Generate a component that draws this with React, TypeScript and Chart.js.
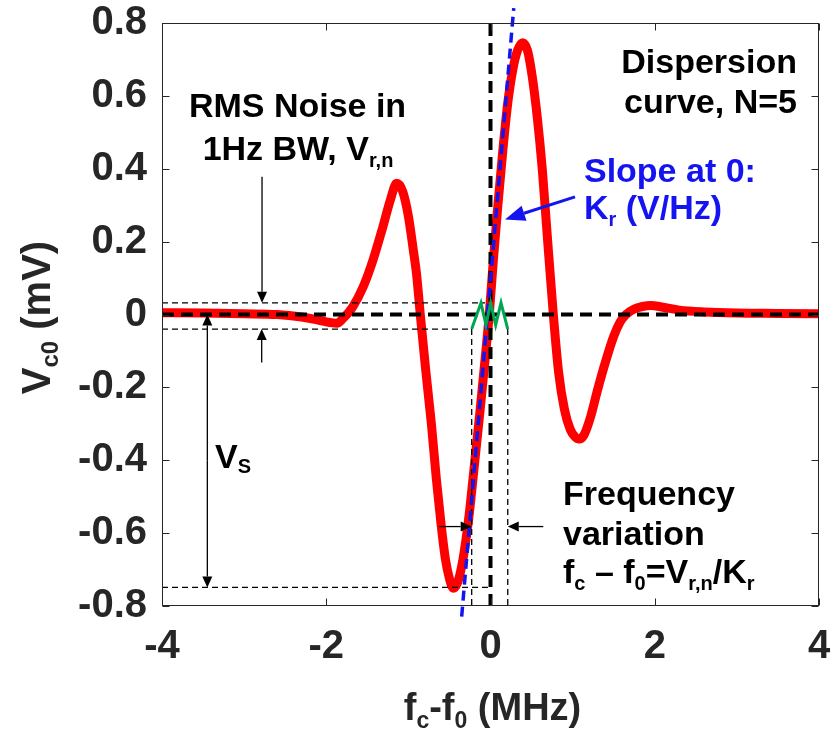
import React, { useEffect, useRef } from 'react';
import { Chart, registerables } from 'chart.js';

Chart.register(...registerables);

const FONT = '"Liberation Sans", Arial, Helvetica, sans-serif';
const AXIS_COLOR = '#262626';

// Dispersion curve (N=5): frequency offset fc-f0 in MHz, Vc0 in mV
const freqMHz = [
  -4.0, -3.5, -3.0, -2.6, -2.3, -2.1, -1.95, -1.87, -1.8, -1.68, -1.55, -1.43, -1.31, -1.22,
  -1.142, -1.07, -1.0, -0.94, -0.9, -0.855, -0.79, -0.72, -0.66, -0.6, -0.55, -0.5, -0.453,
  -0.4, -0.35, -0.3, -0.25, -0.19, -0.13, -0.08, -0.015, 0.035, 0.09, 0.15, 0.21, 0.27, 0.33,
  0.39, 0.45, 0.51, 0.57, 0.63, 0.69, 0.765, 0.83, 0.9, 0.97, 1.03, 1.08, 1.14, 1.22, 1.3,
  1.4, 1.5, 1.58, 1.65, 1.75, 1.85, 1.95, 2.1, 2.3, 2.6, 3.0, 3.5, 4.0,
];
const vc0mV = [
  0.005, 0.004, 0.002, 0.0, -0.007, -0.015, -0.022, -0.024, -0.012, 0.02, 0.076, 0.15, 0.241, 0.314,
  0.36, 0.338, 0.27, 0.177, 0.11, 0.0, -0.15, -0.3, -0.45, -0.58, -0.67, -0.725, -0.751,
  -0.735, -0.69, -0.62, -0.53, -0.4, -0.27, -0.155, 0.0, 0.15, 0.3, 0.45, 0.58, 0.67, 0.725,
  0.746, 0.725, 0.65, 0.54, 0.4, 0.22, 0.0, -0.16, -0.26, -0.315, -0.336, -0.342, -0.33, -0.28, -0.21,
  -0.13, -0.06, -0.02, 0.0, 0.015, 0.022, 0.025, 0.02, 0.012, 0.007, 0.004, 0.003, 0.002,
];

// Tangent at 0 (slope Kr)
const slopeFreq = [-0.351, 0.283];
const slopeV = [-0.829, 0.841];

// Noise zig-zag
const noiseFreq = [-0.229, -0.116, -0.055, 0.002, 0.063, 0.128, 0.21];
const noiseV = [-0.04, 0.032, -0.029, 0.032, -0.029, 0.032, -0.04];

// Reference levels
const noiseHigh = 0.032;
const noiseLow = -0.04;
const signalLevel = -0.749;
const freqLow = -0.229;
const freqHigh = 0.21;

const xTickValues = [-4, -2, 0, 2, 4];
const xTickLabels = ['-4', '-2', '0', '2', '4'];
const yTickValues = [0.8, 0.6, 0.4, 0.2, 0, -0.2, -0.4, -0.6, -0.8];
const yTickLabels = ['0.8', '0.6', '0.4', '0.2', '0', '-0.2', '-0.4', '-0.6', '-0.8'];

type Seg = [string, boolean];

function rich(
  ctx: CanvasRenderingContext2D,
  segs: Seg[],
  x: number,
  y: number,
  size: number,
  align: 'left' | 'center' | 'right',
  color: string,
  subScale = 0.6,
  subShift = 0.2,
) {
  const main = `bold ${size}px ${FONT}`;
  const sub = `bold ${Math.round(size * subScale)}px ${FONT}`;
  let w = 0;
  const ws = segs.map(([t, s]) => {
    ctx.font = s ? sub : main;
    const m = ctx.measureText(t).width;
    w += m;
    return m;
  });
  let cx = align === 'left' ? x : align === 'center' ? x - w / 2 : x - w;
  ctx.fillStyle = color;
  ctx.textAlign = 'left';
  ctx.textBaseline = 'alphabetic';
  segs.forEach(([t, s], i) => {
    ctx.font = s ? sub : main;
    ctx.fillText(t, cx, s ? y + size * subShift : y);
    cx += ws[i];
  });
}

function arrow(
  ctx: CanvasRenderingContext2D,
  x1: number, y1: number, x2: number, y2: number,
  len: number, half: number, color: string, lw: number,
) {
  const ang = Math.atan2(y2 - y1, x2 - x1);
  const bx = x2 - len * Math.cos(ang);
  const by = y2 - len * Math.sin(ang);
  ctx.strokeStyle = color;
  ctx.lineWidth = lw;
  ctx.setLineDash([]);
  ctx.beginPath();
  ctx.moveTo(x1, y1);
  ctx.lineTo(bx, by);
  ctx.stroke();
  ctx.fillStyle = color;
  ctx.beginPath();
  ctx.moveTo(x2, y2);
  ctx.lineTo(bx + half * Math.sin(ang), by - half * Math.cos(ang));
  ctx.lineTo(bx - half * Math.sin(ang), by + half * Math.cos(ang));
  ctx.closePath();
  ctx.fill();
}

const annotPlugin = {
  id: 'annot',
  afterDatasetsDraw(chart: any) {
    const { ctx, chartArea: a, scales } = chart;
    const xs = scales.x;
    const ys = scales.y;
    const px = (v: number) => xs.getPixelForValue(v);
    const py = (v: number) => ys.getPixelForValue(v);
    ctx.save();

    // axis box
    const L = Math.round(a.left) + 0.5;
    const T = Math.round(a.top) + 0.5;
    const R = Math.round(a.right) - 0.5;
    const B = Math.round(a.bottom) - 0.5;
    ctx.strokeStyle = AXIS_COLOR;
    ctx.lineWidth = 1;
    ctx.setLineDash([]);
    ctx.strokeRect(L, T, R - L, B - T);
    // inward ticks
    const tl = 7;
    ctx.beginPath();
    xTickValues.forEach((v) => {
      const p = Math.round(px(v)) + 0.5;
      ctx.moveTo(p, B); ctx.lineTo(p, B - tl);
      ctx.moveTo(p, T); ctx.lineTo(p, T + tl);
    });
    yTickValues.forEach((v) => {
      const p = Math.round(py(v)) + 0.5;
      ctx.moveTo(L, p); ctx.lineTo(L + tl, p);
      ctx.moveTo(R, p); ctx.lineTo(R - tl, p);
    });
    ctx.stroke();

    // black arrows
    const k = '#000000';
    arrow(ctx, px(-2.782), py(0.378), px(-2.782), py(noiseHigh), 11, 5, k, 1.3);
    arrow(ctx, px(-2.786), py(-0.132), px(-2.786), py(noiseLow), 11, 5, k, 1.3);
    arrow(ctx, px(-3.448), py(-0.4), px(-3.448), py(0), 11, 5, k, 1.3);
    arrow(ctx, px(-3.448), py(-0.4), px(-3.448), py(signalLevel), 11, 5, k, 1.3);
    arrow(ctx, px(-0.623), py(-0.582), px(freqLow), py(-0.582), 11, 5, k, 1.3);
    arrow(ctx, px(0.643), py(-0.582), px(freqHigh), py(-0.582), 11, 5, k, 1.3);

    // blue arrow
    const blue = '#1414f0';
    arrow(ctx, px(1.029), py(0.323), px(0.1766), py(0.261), 20, 8, blue, 3);

    // texts
    const S = 34;
    rich(ctx, [['RMS Noise in', false]], px(-2.35), py(0.543), S, 'center', k);
    rich(ctx, [['1Hz BW, V', false], ['r,n', true]], px(-2.344), py(0.424), S, 'center', k);
    rich(ctx, [['Dispersion', false]], px(3.732), py(0.664), S, 'right', k);
    rich(ctx, [['curve, N=5', false]], px(3.732), py(0.552), S, 'right', k);
    rich(ctx, [['Slope at 0:', false]], px(1.138), py(0.3645), S, 'left', blue);
    rich(ctx, [['K', false], ['r', true], [' (V/Hz)', false]], px(1.138), py(0.261), S, 'left', blue);
    rich(ctx, [['V', false], ['S', true]], px(-3.355), py(-0.421), S, 'left', k, 0.6, 0.15);
    rich(ctx, [['Frequency', false]], px(0.883), py(-0.523), S, 'left', k);
    rich(ctx, [['variation', false]], px(0.883), py(-0.633), S, 'left', k);
    rich(
      ctx,
      [['f', false], ['c', true], [' \u2013 f', false], ['0', true], ['=V', false], ['r,n', true], ['/K', false], ['r', true]],
      px(0.883), py(-0.738), S, 'left', k,
    );

    // axis titles
    rich(ctx, [['f', false], ['c', true], ['-f', false], ['0', true], [' (MHz)', false]], (a.left + a.right) / 2 + 2, 720, 38, 'center', AXIS_COLOR);
    ctx.save();
    ctx.translate(50, (a.top + a.bottom) / 2 + 3);
    ctx.rotate(-Math.PI / 2);
    rich(ctx, [['V', false], ['c0', true], [' (mV)', false]], 0, 0, 40, 'center', AXIS_COLOR);
    ctx.restore();

    ctx.restore();
  },
};

const pts = (xsArr: number[], ysArr: number[]) => xsArr.map((x, i) => ({ x, y: ysArr[i] }));

export default function App() {
  const ref = useRef<HTMLCanvasElement | null>(null);

  useEffect(() => {
    if (!ref.current) return;
    const xMin = xTickValues[0];
    const xMax = xTickValues[xTickValues.length - 1];
    const yMin = yTickValues[yTickValues.length - 1];
    const yMax = yTickValues[0];
    const thin = { borderColor: '#000000', borderWidth: 1.3, borderDash: [6, 4], pointRadius: 0, tension: 0, order: 3 };
    const chart = new Chart(ref.current, {
      type: 'line',
      data: {
        datasets: [
          {
            label: 'noise',
            data: pts(noiseFreq, noiseV),
            borderColor: '#00a651',
            borderWidth: 3,
            pointRadius: 0,
            tension: 0,
            borderJoinStyle: 'miter',
            order: 0,
          },
          {
            label: 'slope',
            data: pts(slopeFreq, slopeV),
            borderColor: '#1414f0',
            borderWidth: 3.5,
            borderDash: [10, 6],
            pointRadius: 0,
            clip: false,
            order: 1,
          },
          {
            label: 'zeroH',
            data: [{ x: xMin, y: 0 }, { x: xMax, y: 0 }],
            borderColor: '#000000',
            borderWidth: 4,
            borderDash: [12, 7],
            pointRadius: 0,
            order: 2,
          },
          {
            label: 'zeroV',
            data: [{ x: 0, y: yMin }, { x: 0, y: yMax }],
            borderColor: '#000000',
            borderWidth: 4,
            borderDash: [12, 7],
            pointRadius: 0,
            order: 2,
          },
          { label: 'hi', data: [{ x: xMin, y: noiseHigh }, { x: -0.067, y: noiseHigh }], ...thin },
          { label: 'lo', data: [{ x: xMin, y: noiseLow }, { x: freqLow, y: noiseLow }], ...thin },
          { label: 'vs', data: [{ x: xMin, y: signalLevel }, { x: -0.027, y: signalLevel }], ...thin },
          { label: 'fl', data: [{ x: freqLow, y: noiseLow }, { x: freqLow, y: yMin }], ...thin },
          { label: 'fh', data: [{ x: freqHigh, y: noiseLow }, { x: freqHigh, y: yMin }], ...thin },
          {
            label: 'curve',
            data: pts(freqMHz, vc0mV),
            borderColor: '#ff0000',
            borderWidth: 9,
            pointRadius: 0,
            cubicInterpolationMode: 'monotone',
            borderCapStyle: 'round',
            borderJoinStyle: 'round',
            order: 10,
          },
        ] as any,
      },
      options: {
        animation: false,
        responsive: false,
        devicePixelRatio: 1,
        layout: { padding: { top: 23, right: 15, left: 0, bottom: 0 } },
        plugins: { legend: { display: false }, tooltip: { enabled: false } },
        events: [],
        scales: {
          x: {
            type: 'linear',
            min: xMin,
            max: xMax,
            afterBuildTicks: (s: any) => {
              s.ticks = xTickValues.map((v) => ({ value: v }));
            },
            ticks: {
              callback: (v: any) => xTickLabels[xTickValues.indexOf(Number(v))] ?? '',
              font: { family: FONT, size: 40, weight: 'bold', lineHeight: 1 },
              color: AXIS_COLOR,
              padding: 21,
              maxRotation: 0,
              autoSkip: false,
            },
            grid: { display: false, drawTicks: false },
            border: { display: false },
            afterFit: (s: any) => {
              s.height = 124;
              s.paddingLeft = 0;
              s.paddingRight = 0;
              s.paddingTop = 0;
              s.paddingBottom = 0;
            },
          },
          y: {
            type: 'linear',
            min: yMin,
            max: yMax,
            afterBuildTicks: (s: any) => {
              s.ticks = yTickValues.map((v) => ({ value: v }));
            },
            ticks: {
              callback: (v: any) => {
                const i = yTickValues.findIndex((t) => Math.abs(t - Number(v)) < 1e-6);
                return i >= 0 ? yTickLabels[i] : '';
              },
              font: { family: FONT, size: 40, weight: 'bold', lineHeight: 1 },
              color: AXIS_COLOR,
              padding: 15,
              autoSkip: false,
            },
            grid: { display: false, drawTicks: false },
            border: { display: false },
            afterFit: (s: any) => {
              s.width = 162;
              s.paddingLeft = 0;
              s.paddingRight = 0;
              s.paddingTop = 0;
              s.paddingBottom = 0;
            },
          },
        },
      } as any,
      plugins: [annotPlugin],
    });
    return () => chart.destroy();
  }, []);

  return (
    <div style={{ position: 'absolute', left: 0, top: 0, width: 834, height: 730, background: '#ffffff' }}>
      <canvas ref={ref} width={834} height={730} style={{ display: 'block' }} />
    </div>
  );
}
